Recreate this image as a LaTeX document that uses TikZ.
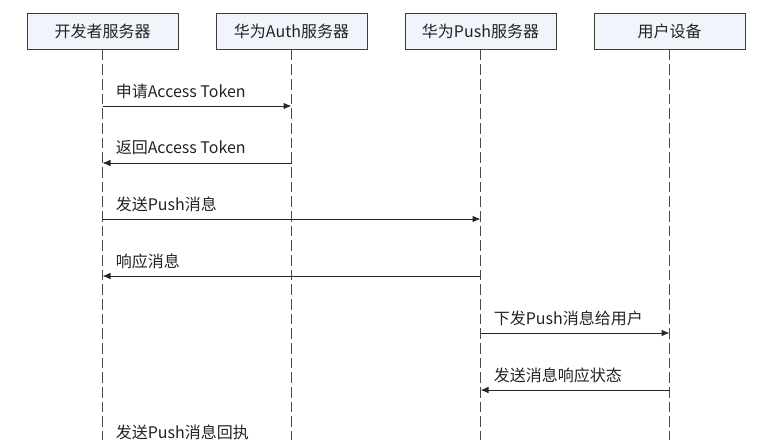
\documentclass[tikz,border=0pt]{standalone}
\usepackage{fontspec}
\setmainfont{Noto Sans CJK SC}
\usetikzlibrary{arrows.meta}

\definecolor{boxfill}{RGB}{241,245,251}
\definecolor{boxline}{RGB}{60,60,60}
\definecolor{lifegray}{RGB}{75,75,75}
\definecolor{txt}{RGB}{35,35,35}

\begin{document}
\begin{tikzpicture}[x=0.75pt,y=-0.75pt]
 \tikzstyle{actor} = [draw=boxline,fill=boxfill,line width=0.75pt,minimum width=113.25pt,minimum height=27pt,inner sep=0pt,node distance=141.75pt,text=txt,font=\fontsize{12pt}{14pt}\selectfont];
 \tikzstyle{life} = [draw=lifegray,line width=0.8pt,dash pattern=on 8pt off 3pt];
 \tikzstyle{msg} = [draw=black!85,line width=0.75pt,-{Latex[length=6pt,width=5pt]}];
 \tikzstyle{lbl} = [anchor=west,inner sep=0pt,xshift=9.75pt,yshift=11.25pt,text=txt,font=\fontsize{12pt}{14pt}\selectfont];

 \clip (0,0) rectangle (780,439);

 % participants
 \node[actor,name=dev] at (102.5,31) {开发者服务器};
 \node[actor,name=auth,right of=dev] {华为Auth服务器};
 \node[actor,name=push,right of=auth] {华为Push服务器};
 \node[actor,name=user,right of=push] {用户设备};

 % lifelines
 \coordinate (bottom) at (0,470);
 \draw[life] (dev.south) -- (dev |- bottom);
 \draw[life] (auth.south) -- (auth |- bottom);
 \draw[life] (push.south) -- (push |- bottom);
 \draw[life] (user.south) -- (user |- bottom);

 % message rows
 \coordinate (r1) at (0,106);
 \coordinate (r2) at (0,163);
 \coordinate (r3) at (0,219);
 \coordinate (r4) at (0,276);
 \coordinate (r5) at (0,333);
 \coordinate (r6) at (0,390);
 \coordinate (r7) at (0,447);

 \draw[msg] (dev |- r1) -- (auth |- r1);
 \node[lbl] at (dev |- r1) {申请Access Token};
 \draw[msg] (auth |- r2) -- (dev |- r2);
 \node[lbl] at (dev |- r2) {返回Access Token};
 \draw[msg] (dev |- r3) -- (push |- r3);
 \node[lbl] at (dev |- r3) {发送Push消息};
 \draw[msg] (push |- r4) -- (dev |- r4);
 \node[lbl] at (dev |- r4) {响应消息};
 \draw[msg] (push |- r5) -- (user |- r5);
 \node[lbl] at (push |- r5) {下发Push消息给用户};
 \draw[msg] (user |- r6) -- (push |- r6);
 \node[lbl] at (push |- r6) {发送消息响应状态};
 \draw[msg] (push |- r7) -- (dev |- r7);
 \node[lbl] at (dev |- r7) {发送Push消息回执};
\end{tikzpicture}
\end{document}
